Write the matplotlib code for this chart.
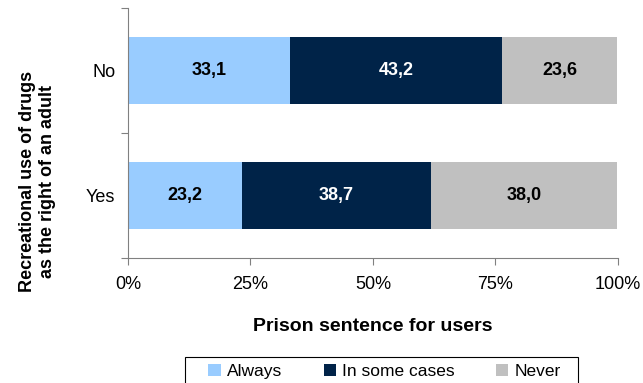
import matplotlib
matplotlib.use("Agg")
import matplotlib.pyplot as plt
from matplotlib.patches import Rectangle
import numpy as np

plt.rcParams['font.family'] = ['Liberation Sans', 'DejaVu Sans']

# Answers to "recreational use of drugs as the right of an adult"
groups = ['Yes', 'No']
always = [23.2, 33.1]
some_cases = [38.7, 43.2]
never = [38.0, 23.6]

series = [
    ('Always', always, '#99CCFF', 'black'),
    ('In some cases', some_cases, '#002348', 'white'),
    ('Never', never, '#C0C0C0', 'black'),
]

fig = plt.figure(figsize=(6.43, 3.83), dpi=100)
ax = fig.add_axes([0.199, 0.326, 0.762, 0.653])

y = np.arange(len(groups))
left = np.zeros(len(groups))
for name, vals, color, txt in series:
    vals = np.array(vals)
    ax.barh(y, vals, left=left, height=0.53, color=color, label=name)
    for yi, l, v in zip(y, left, vals):
        ax.text(l + v / 2, yi, f"{v:.1f}".replace('.', ','), ha='center', va='center',
                fontsize=13, fontweight='bold', color=txt)
    left += vals

ax.set_xlim(0, 100)
ax.set_ylim(-0.5, 1.5)
ax.set_xticks([0, 25, 50, 75, 100])
ax.set_xticklabels(['0%', '25%', '50%', '75%', '100%'], fontsize=13)
ax.set_yticks([-0.5, 0.5, 1.5])
ax.set_yticklabels([])
ax.set_yticks(y, minor=True)
ax.set_yticklabels(groups, minor=True, fontsize=13)
ax.tick_params(axis='y', which='minor', length=0, pad=9)
ax.tick_params(axis='y', which='major', length=5, color='#808080')
ax.tick_params(axis='x', length=5, color='#808080', pad=8)

for s in ['top', 'right']:
    ax.spines[s].set_visible(False)
for s in ['left', 'bottom']:
    ax.spines[s].set_color('#808080')

ax.set_xlabel('Prison sentence for users', fontsize=14, fontweight='bold', labelpad=18)
fig.text(0.058, 0.527, 'Recreational use of drugs\nas the right of an adult', rotation=90,
         ha='center', va='center', fontsize=13, fontweight='bold', linespacing=1.25,
         multialignment='center')

# legend box runs off the bottom edge
fig.add_artist(Rectangle((0.288, -0.05), 0.611, 0.118, transform=fig.transFigure,
                         facecolor='none', edgecolor='black', linewidth=0.8))
leg = fig.legend(loc='upper center', bbox_to_anchor=(0.598, 0.083), ncol=3, frameon=False,
                 fontsize=12.5, handlelength=0.7, handleheight=0.7, columnspacing=2.4,
                 handletextpad=0.35, borderpad=0.25)

fig.savefig('out.png', dpi=100)
